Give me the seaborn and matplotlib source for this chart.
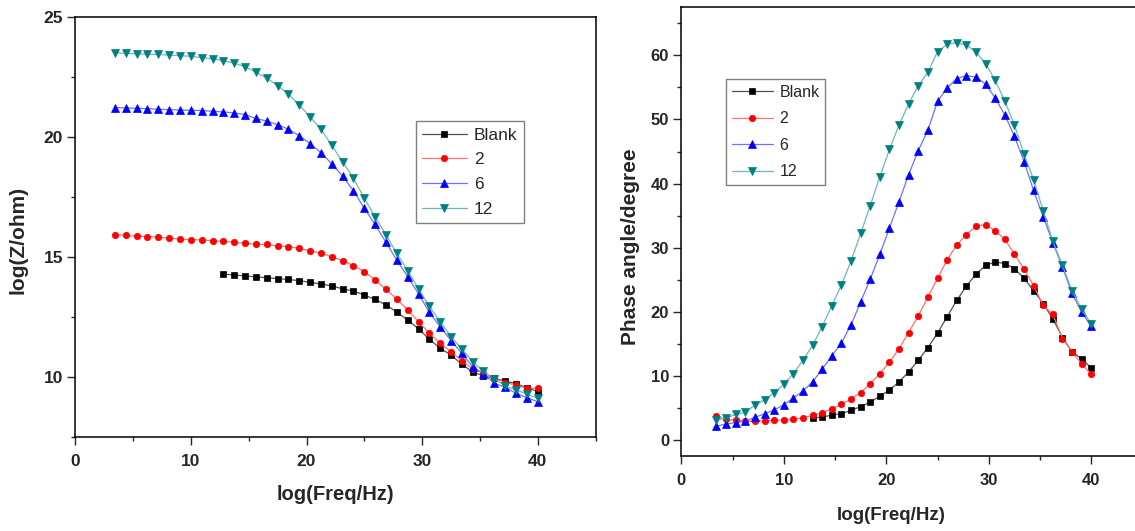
import matplotlib
matplotlib.use('Agg')

import numpy as np
import pandas as pd
import seaborn as sns
import matplotlib.pyplot as plt
from matplotlib.ticker import MultipleLocator

# log(Freq/Hz) grid shared by every series (Blank starts at the 11th point)
x_freq = [3.43, 4.37, 5.31, 6.24, 7.18, 8.12, 9.06, 9.99, 10.93, 11.87,
          12.81, 13.74, 14.68, 15.62, 16.56, 17.50, 18.43, 19.37, 20.31, 21.25,
          22.18, 23.12, 24.06, 25.00, 25.93, 26.87, 27.81, 28.75, 29.69, 30.62,
          31.56, 32.50, 33.44, 34.37, 35.31, 36.25, 37.19, 38.12, 39.06, 40.00]
blank_start = 10

series_names = ["Blank", "2", "6", "12"]

# log(Z/ohm)
z_blank = [14.28, 14.25, 14.21, 14.17, 14.13, 14.10, 14.06, 14.01, 13.94, 13.87,
           13.79, 13.67, 13.58, 13.41, 13.23, 13.00, 12.70, 12.37, 12.00, 11.57,
           11.19, 10.91, 10.52, 10.20, 10.04, 9.93, 9.83, 9.71, 9.55, 9.38]
z_2 = [15.93, 15.90, 15.86, 15.85, 15.82, 15.79, 15.74, 15.72, 15.71, 15.68,
       15.65, 15.61, 15.57, 15.53, 15.52, 15.46, 15.43, 15.36, 15.26, 15.15,
       15.01, 14.85, 14.64, 14.39, 14.04, 13.65, 13.24, 12.79, 12.30, 11.82,
       11.40, 11.05, 10.66, 10.34, 10.15, 9.94, 9.76, 9.66, 9.52, 9.53]
z_6 = [21.23, 21.22, 21.20, 21.19, 21.16, 21.15, 21.13, 21.12, 21.11, 21.08,
       21.05, 21.01, 20.94, 20.78, 20.67, 20.52, 20.33, 20.06, 19.73, 19.35,
       18.89, 18.37, 17.76, 17.03, 16.36, 15.61, 14.87, 14.18, 13.46, 12.69,
       12.09, 11.51, 10.98, 10.42, 10.11, 9.73, 9.56, 9.31, 9.13, 8.96]
z_12 = [23.53, 23.49, 23.48, 23.46, 23.45, 23.42, 23.40, 23.37, 23.32, 23.27,
        23.19, 23.09, 22.94, 22.71, 22.46, 22.15, 21.80, 21.34, 20.85, 20.33,
        19.66, 18.98, 18.28, 17.45, 16.68, 15.93, 15.15, 14.43, 13.67, 12.95,
        12.30, 11.68, 11.16, 10.63, 10.23, 9.91, 9.62, 9.45, 9.28, 9.10]

# Phase angle/degree
ph_blank = [3.38, 3.60, 3.86, 4.12, 4.60, 5.22, 5.90, 6.85, 7.79, 9.08,
            10.62, 12.43, 14.42, 16.68, 19.20, 21.77, 24.00, 25.88, 27.22, 27.77,
            27.53, 26.75, 25.25, 23.28, 21.27, 18.89, 15.98, 13.76, 12.65, 11.22]
ph_2 = [3.67, 3.22, 3.07, 2.94, 2.94, 2.99, 3.05, 3.12, 3.27, 3.44,
        3.85, 4.27, 4.82, 5.56, 6.40, 7.40, 8.76, 10.36, 12.12, 14.27,
        16.76, 19.36, 22.30, 25.20, 28.10, 30.40, 32.05, 33.33, 33.60, 32.60,
        31.30, 29.00, 26.65, 24.07, 21.00, 19.60, 15.82, 13.76, 11.85, 10.26]
ph_6 = [2.15, 2.50, 2.70, 2.94, 3.54, 4.06, 4.67, 5.50, 6.53, 7.65,
        9.07, 11.06, 13.11, 15.13, 17.94, 21.55, 25.08, 28.95, 33.10, 37.20,
        41.40, 45.15, 48.36, 52.82, 54.92, 56.36, 56.86, 56.60, 55.52, 53.35,
        50.72, 47.37, 43.43, 38.92, 34.80, 30.76, 26.93, 22.86, 19.95, 17.72]
ph_12 = [3.12, 3.38, 4.00, 4.33, 5.43, 6.27, 7.37, 8.68, 10.33, 12.43,
         14.77, 17.68, 20.96, 24.18, 27.90, 32.23, 36.56, 41.05, 45.35, 49.15,
         52.45, 55.25, 57.38, 60.60, 61.74, 61.97, 61.60, 60.53, 58.72, 56.12,
         52.90, 49.15, 44.56, 40.62, 35.75, 31.00, 27.22, 23.28, 20.37, 18.10]

rows = []
for name, zs, ps in zip(series_names, [z_blank, z_2, z_6, z_12],
                        [ph_blank, ph_2, ph_6, ph_12]):
    xs = x_freq[blank_start:] if name == "Blank" else x_freq
    for xv, zv, pv in zip(xs, zs, ps):
        rows.append({"series": name, "freq": xv, "z": zv, "phase": pv})
df = pd.DataFrame(rows)

styles = {
    "Blank": dict(marker='s', mcol='#000000', lcol='#505050', ms=4.2),
    "2": dict(marker='o', mcol='#ff0000', lcol='#ff7070', ms=4.6),
    "6": dict(marker='^', mcol='#0000ff', lcol='#7070ff', ms=5.8),
    "12": dict(marker='v', mcol='#008080', lcol='#6fb7b7', ms=5.8),
}

sns.set_style("ticks")
plt.rcParams['font.family'] = ['Liberation Sans', 'DejaVu Sans']

W, H = 1135, 531
fig = plt.figure(figsize=(W / 100, H / 100), dpi=100)
ax1 = fig.add_axes([75.3 / W, 1 - 436.7 / H, 520.2 / W, 419.4 / H])
ax2 = fig.add_axes([681.3 / W, 1 - 456.0 / H, 461.25 / W, 448.7 / H])

for ax, col in [(ax1, "z"), (ax2, "phase")]:
    for name in series_names:
        st = styles[name]
        sns.lineplot(data=df[df["series"] == name], x="freq", y=col, ax=ax,
                     color=st["lcol"], lw=0.9, marker=st["marker"],
                     markersize=st["ms"], markerfacecolor=st["mcol"],
                     markeredgecolor=st["mcol"], markeredgewidth=0.5,
                     label=name, legend=False)

ax1.set_xlim(0, 45)
ax1.set_ylim(7.5, 25)
ax1.xaxis.set_major_locator(MultipleLocator(10))
ax1.xaxis.set_minor_locator(MultipleLocator(5))
ax1.yaxis.set_major_locator(MultipleLocator(5))
ax1.yaxis.set_minor_locator(MultipleLocator(2.5))

ax2.set_xlim(0, 45)
ax2.set_ylim(-2.5, 67.5)
ax2.xaxis.set_major_locator(MultipleLocator(10))
ax2.xaxis.set_minor_locator(MultipleLocator(5))
ax2.yaxis.set_major_locator(MultipleLocator(10))
ax2.yaxis.set_minor_locator(MultipleLocator(5))

for ax, fs in [(ax1, 12.5), (ax2, 12)]:
    for sp in ax.spines.values():
        sp.set_linewidth(1.1)
        sp.set_color('black')
    ax.tick_params(which='major', direction='out', length=5.8, width=1.0,
                   labelsize=fs, pad=3, top=False, right=False)
    ax.tick_params(which='minor', direction='out', length=3.2, width=1.0,
                   top=False, right=False)
    ax.tick_params(axis='x', which='major', pad=6.5)
    plt.setp(ax.get_xticklabels() + ax.get_yticklabels(), fontweight='bold')

ax1.set_xlabel("log(Freq/Hz)", fontsize=14.5, fontweight='bold')
ax1.set_ylabel("log(Z/ohm)", fontsize=15, fontweight='bold')
ax2.set_xlabel("log(Freq/Hz)", fontsize=13.5, fontweight='bold')
ax2.set_ylabel("Phase angle/degree", fontsize=15, fontweight='bold')

for ax, xc, yc in [(ax1, (0.5, -0.138), (-0.110, 0.47)),
                   (ax2, (0.4546, -0.1337), (-0.111, 0.466))]:
    ax.xaxis.label.set_va('center')
    ax.xaxis.set_label_coords(*xc)
    ax.yaxis.label.set_va('center')
    ax.yaxis.label.set_ha('center')
    ax.yaxis.set_label_coords(*yc)

for ax, anchor, fs, spacing in [(ax1, (415.7 / W, 1 - 121.4 / H), 12.5, 0.55),
                                (ax2, (726.0 / W, 1 - 79.3 / H), 11.5, 0.72)]:
    leg = ax.legend(loc='upper left', bbox_to_anchor=anchor,
                    bbox_transform=fig.transFigure, fontsize=fs,
                    frameon=True, fancybox=False, framealpha=1,
                    edgecolor='#808080', handlelength=2.6,
                    handletextpad=0.4, borderpad=0.35, labelspacing=spacing,
                    borderaxespad=0)
    leg.get_frame().set_linewidth(1.0)

fig.savefig("out.png", dpi=100)
